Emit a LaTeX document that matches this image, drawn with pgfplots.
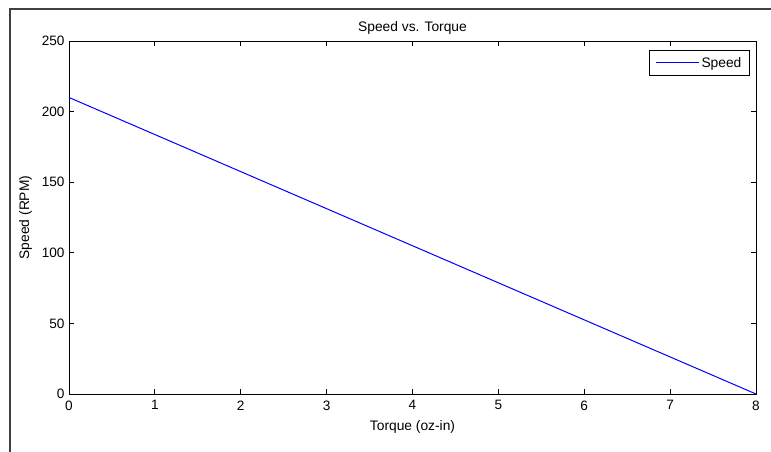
\documentclass[border=0pt]{standalone}
\usepackage{pgfplots}
\pgfplotsset{compat=1.18}
\usepackage{fontspec}
\setmainfont{Liberation Sans}
\begin{document}
\begin{tikzpicture}[x=1pt,y=1pt]
\useasboundingbox (0,0) rectangle (771,452);
\draw[line width=1.2pt, black!75] (10,0) -- (10,443) -- (771,443);
\begin{axis}[
  at={(69pt,58pt)}, anchor=south west,
  scale only axis, width=687pt, height=353pt,
  xmin=0, xmax=8, ymin=0, ymax=250,
  xtick={0,1,...,8}, ytick={0,50,...,250},
  tick align=inside, major tick length=5pt,
  xtick pos=both, ytick pos=both,
  axis line style={line width=0.9pt},
  tick style={line width=0.8pt, black},
  tick label style={font=\fontsize{13.6}{15}\selectfont},
  /pgf/number format/assume math mode=true,
  xticklabel style={yshift=-3pt},
  yticklabel style={xshift=-1pt},
  title={Speed vs. Torque},
  title style={font=\fontsize{13.8}{15}\selectfont, yshift=-3pt},
  xlabel={Torque (oz-in)},
  ylabel={Speed (RPM)},
  label style={font=\fontsize{13.8}{15}\selectfont},
  xlabel style={yshift=-3pt},
  ylabel style={yshift=3pt},
  legend style={at={(0.991,0.975)}, anchor=north east, font=\fontsize{13.8}{15}\selectfont,
    line width=0.8pt, inner xsep=6pt, inner ysep=5pt},
  legend image code/.code={\draw[#1, line width=1pt] (0pt,0pt) -- (43pt,0pt);},
  legend cell align=left,
]
\addplot[blue, line width=1pt] coordinates {(0,210) (8,0)};
\addlegendentry{Speed}
\end{axis}
\end{tikzpicture}
\end{document}
